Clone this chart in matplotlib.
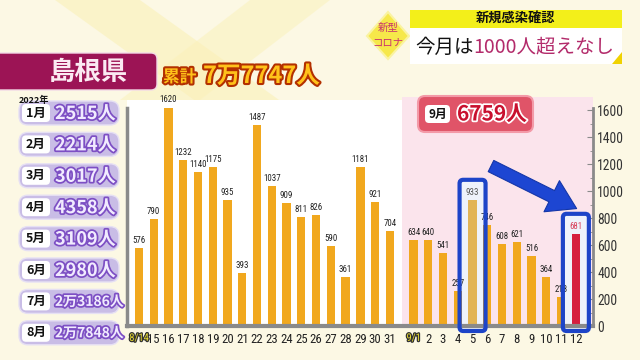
import matplotlib
matplotlib.use('Agg')
import matplotlib.pyplot as plt
import numpy as np
from matplotlib import font_manager
from matplotlib.font_manager import FontProperties
from matplotlib.patches import FancyBboxPatch, Polygon, Rectangle
import matplotlib.patheffects as pe

# ---------------- data ----------------
aug_days = [str(d) for d in range(14, 32)]
aug_cases = [576, 790, 1620, 1232, 1140, 1175, 935, 393, 1487, 1037, 909, 811,
             826, 590, 361, 1181, 921, 704]
sep_days = [str(d) for d in range(1, 13)]
sep_cases = [634, 640, 541, 257, 933, 746, 608, 621, 516, 364, 218, 681]
month_names = ['1月', '2月', '3月', '4月', '5月', '6月', '7月', '8月']
month_totals = ['2515人', '2214人', '3017人', '4358人', '3109人', '2980人',
                '2万3186人', '2万7848人']
cumulative_label = '7万7747人'
sep_total_label = '6759人'
y_ticks = [0, 200, 400, 600, 800, 1000, 1200, 1400, 1600]
highlight_sep = [5, 12]

# ---------------- fonts ----------------
def find_narrow():
    best = None
    for f in font_manager.fontManager.ttflist:
        n = f.name.lower()
        fn = f.fname.lower()
        st = f.stretch
        narrowish = ('narrow' in n or 'condensed' in n or 'narrow' in fn or 'condensed' in fn
                     or st in ('condensed', 'semi-condensed', 'extra-condensed', 'ultra-condensed')
                     or (isinstance(st, int) and st < 500))
        if not narrowish or f.style != 'normal':
            continue
        w = f.weight if isinstance(f.weight, int) else 400
        if 'bold' in fn or 'light' in fn or 'thin' in fn or 'black' in fn or 'medium' in fn or 'italic' in fn:
            if w != 400:
                continue
        score = 0
        if 'liberation' in n:
            score += 5
        if 'roboto' in n:
            score += 4
        if 'dejavu' in n:
            score += 3
        if 'noto' in n:
            score += 2
        if w == 400:
            score += 10
        if best is None or score > best[0]:
            best = (score, f.fname)
    return best[1] if best else None

narrow_path = find_narrow()
if narrow_path:
    NFP = FontProperties(fname=narrow_path)
    NSCALE = 1.0
else:
    NFP = FontProperties(family='DejaVu Sans')
    NSCALE = 0.82

def nfp(size):
    p = NFP.copy()
    p.set_size(size * NSCALE)
    return p

JP = ['Noto Sans CJK JP', 'DejaVu Sans']

W, H = 640, 360
fig = plt.figure(figsize=(6.4, 3.6), dpi=100)
fig.patch.set_facecolor('#fcf8e4')

bg = fig.add_axes([0, 0, 1, 1], zorder=0)
bg.set_xlim(0, W); bg.set_ylim(H, 0); bg.axis('off')
fg = fig.add_axes([0, 0, 1, 1], zorder=3)
fg.set_xlim(0, W); fg.set_ylim(H, 0); fg.axis('off')
fg.patch.set_alpha(0)

# faint background stripes
bg.add_patch(Polygon([(55, 0), (140, 0), (300, 115), (215, 115)], closed=True,
                     fc='#faf1b8', ec='none', alpha=0.6))
bg.add_patch(Polygon([(330, 0), (250, 0), (120, 100), (200, 100)], closed=True,
                     fc='#faf1b8', ec='none', alpha=0.5))

# chart panel
bg.add_patch(Rectangle((127, 100), 466, 226, fc='white', ec='none'))

# ---------------- bar axes ----------------
x0, x1 = 127, 593
ytop, ybot = 108, 326
ax = fig.add_axes([x0 / W, 1 - ybot / H, (x1 - x0) / W, (ybot - ytop) / H], zorder=1)
ax.patch.set_alpha(0)
ax.set_xlim(-0.81, 30.76)
ax.set_ylim(0, 1615)

aug_pos = np.arange(len(aug_cases))
sep_pos = 18.6 + np.arange(len(sep_cases))

# pink September zone
ax.axvspan(17.85, 30.76, ymin=0, ymax=1.05, fc='#fbe4ec', ec='none', clip_on=False, zorder=0)

bar_col = '#f1a81e'
ax.bar(aug_pos, aug_cases, width=0.56, color=bar_col, zorder=2)
sep_colors = []
for d, v in zip(sep_days, sep_cases):
    if int(d) == 12:
        sep_colors.append('#d61f3f')
    elif int(d) == 5:
        sep_colors.append('#e2b455')
    else:
        sep_colors.append(bar_col)
ax.bar(sep_pos, sep_cases, width=0.56, color=sep_colors, zorder=2)

for p, v in zip(aug_pos, aug_cases):
    ax.text(p, v + 22, str(v), ha='center', va='bottom', fontproperties=nfp(6.4),
            color='#222222', zorder=3)
for p, d, v in zip(sep_pos, sep_days, sep_cases):
    col = '#d8405a' if int(d) == 12 else ('#555555' if int(d) == 5 else '#222222')
    ax.text(p, v + 22, str(v), ha='center', va='bottom', fontproperties=nfp(6.4),
            color=col, zorder=3)

# highlight boxes
yscale = (ybot - ytop) / 1615.0
xscale = (x1 - x0) / (30.76 + 0.81)
aspect = xscale / yscale
for d in highlight_sep:
    i = sep_days.index(str(d))
    p, v = sep_pos[i], sep_cases[i]
    top = v + 150
    ax.add_patch(FancyBboxPatch((p - 0.88, -37), 1.76, top + 37,
                                boxstyle='round,pad=0,rounding_size=0.25',
                                mutation_aspect=aspect, fc='#eef2fb', ec='none',
                                clip_on=False, zorder=1))
    ax.add_patch(FancyBboxPatch((p - 0.88, -37), 1.76, top + 37,
                                boxstyle='round,pad=0,rounding_size=0.25',
                                mutation_aspect=aspect, fc='none', ec='#1d44c8', lw=3,
                                clip_on=False, zorder=6))

# arrow
i5 = sep_days.index('5'); i12 = sep_days.index('12')
ax.annotate('', xy=(sep_pos[i12] + 0.05, 870), xytext=(sep_pos[i5] + 1.25, 1185),
            arrowprops=dict(arrowstyle='simple,head_length=1.0,head_width=1.25,tail_width=0.45',
                            fc='#1d46d2', ec='#1436a8', lw=0.8, mutation_scale=20,
                            shrinkA=0, shrinkB=0), zorder=7, annotation_clip=False)

# spines / ticks
ax.spines['top'].set_visible(False)
ax.spines['left'].set_color('#8a8a8a'); ax.spines['left'].set_linewidth(2.5)
ax.spines['bottom'].set_color('#8a8a8a'); ax.spines['bottom'].set_linewidth(3)
ax.spines['right'].set_color('#8a8a8a'); ax.spines['right'].set_linewidth(2)
ax.yaxis.tick_right()
ax.set_yticks(y_ticks)
ax.set_yticks(np.arange(100, 1600, 200), minor=True)
ax.set_yticklabels([str(t) for t in y_ticks], fontproperties=nfp(9.8), color='#333333')
ax.tick_params(axis='y', which='major', direction='in', length=4, color='#8a8a8a', pad=3)
ax.tick_params(axis='y', which='minor', direction='in', length=2.5, color='#8a8a8a')

xlabels = ['8/' + aug_days[0]] + aug_days[1:] + ['9/' + sep_days[0]] + sep_days[1:]
ax.set_xticks(np.concatenate([aug_pos, sep_pos]))
ax.set_xticklabels(xlabels, fontproperties=nfp(9.2), color='#222222')
ax.tick_params(axis='x', length=0, pad=5)
for lab in ax.get_xticklabels():
    if '/' in lab.get_text():
        lab.set_color('#e6d830')
        lab.set_fontproperties(nfp(7.6))
        lab.set_path_effects([pe.withStroke(linewidth=1.8, foreground='#333333')])

# ---------------- left panel ----------------
bg.text(34, 100, '2022年', ha='center', va='center', fontsize=6.5, fontweight='bold',
        family=JP, color='#111111')
for i, (m, t) in enumerate(zip(month_names, month_totals)):
    yc = 113 + 31.4 * i
    bg.add_patch(FancyBboxPatch((19, yc - 12), 100, 24, boxstyle='round,pad=0,rounding_size=9',
                                fc='#c9bde6', ec='#e6e0f4', lw=1))
    bg.add_patch(FancyBboxPatch((22, yc - 9), 28, 18, boxstyle='round,pad=0,rounding_size=4',
                                fc='white', ec='none'))
    bg.text(36, yc, m, ha='center', va='center', fontsize=9, fontweight='bold',
            family=JP, color='#111111')
    fs = 10 if '万' in t else 13
    bg.text(55, yc + 0.5, t, ha='left', va='center', fontsize=fs, fontweight='bold',
            family=JP, color='#f1ebff',
            path_effects=[pe.withStroke(linewidth=2.5, foreground='#7d4fc4')])

# title
bg.add_patch(FancyBboxPatch((-10, 53), 167, 37, boxstyle='round,pad=0,rounding_size=6',
                            fc='#9c1455', ec='#f3d9e6', lw=1))
bg.text(88, 72, '島根県', ha='center', va='center', fontsize=19, fontweight='bold',
        family=JP, color='#fbeaf2')
stroke = [pe.withStroke(linewidth=3, foreground='#b33000')]
bg.text(163, 77, '累計', ha='left', va='center', fontsize=12, fontweight='bold',
        family=JP, color='#ffc21a', path_effects=stroke)
bg.text(203, 76, cumulative_label, ha='left', va='center', fontsize=17, fontweight='bold',
        family=JP, color='#ffc21a', path_effects=stroke)

# September badge
fg.add_patch(FancyBboxPatch((418, 96), 115, 36, boxstyle='round,pad=0,rounding_size=7',
                            fc='#e05468', ec='#f39aa8', lw=1.5))
fg.add_patch(FancyBboxPatch((425, 105), 25, 18, boxstyle='round,pad=0,rounding_size=4',
                            fc='white', ec='none'))
fg.text(437.5, 114, '9月', ha='center', va='center', fontsize=8.5, fontweight='bold',
        family=JP, color='#111111')
fg.text(457, 114, sep_total_label, ha='left', va='center', fontsize=15, fontweight='bold',
        family=JP, color='#c8102e',
        path_effects=[pe.withStroke(linewidth=2.5, foreground='white')])

# ---------------- top-right banner ----------------
bg.add_patch(Polygon([(388, 12), (409, 36), (388, 59), (367, 36)], closed=True,
                     fc='#f6e84a', ec='#faf3a0', lw=1.5))
bg.text(388, 28, '新型', ha='center', va='center', fontsize=7.5, family=JP, color='#c8306e')
bg.text(388, 43, 'コロナ', ha='center', va='center', fontsize=7.5, family=JP, color='#c8306e')
bg.add_patch(Rectangle((410, 10), 212, 18, fc='#f3ef1a', ec='none'))
bg.text(516, 19, '新規感染確認', ha='center', va='center', fontsize=9.5, family=JP,
        fontweight='bold', color='#111111')
bg.add_patch(Rectangle((410, 28), 212, 36, fc='white', ec='none'))
bg.add_patch(Polygon([(622, 52), (622, 64), (612, 64)], closed=True, fc='#f0d200', ec='none'))
t1 = bg.text(415, 47, '今月は', ha='left', va='center', fontsize=14, family=JP, color='#111111')
fig.canvas.draw()
bb = t1.get_window_extent()
inv = bg.transData.inverted()
xr = inv.transform((bb.x1, bb.y0))[0]
bg.text(xr, 47, '1000人超えなし', ha='left', va='center', fontsize=14, family=JP,
        color='#b32b6b')

fig.savefig('out.png', dpi=100, facecolor=fig.get_facecolor())
